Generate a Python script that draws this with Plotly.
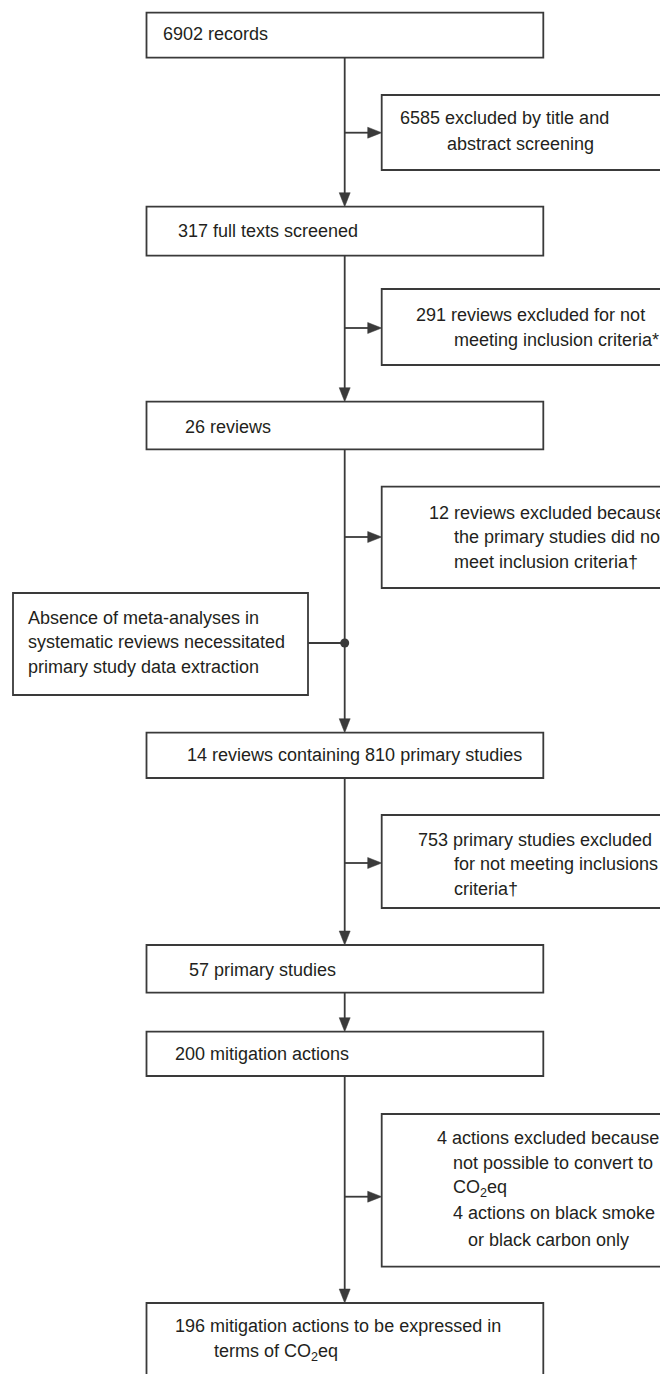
import plotly.graph_objects as go

# ---------------- data (text content of the flow chart) ----------------
main_steps = [
    ["6902 records"],
    ["317 full texts screened"],
    ["26 reviews"],
    ["14 reviews containing 810 primary studies"],
    ["57 primary studies"],
    ["200 mitigation actions"],
    ["196 mitigation actions to be expressed in", "terms of CO<sub>2</sub>eq"],
]
exclusions = [
    ["6585 excluded by title and", "abstract screening"],
    ["291 reviews excluded for not", "meeting inclusion criteria*"],
    ["12 reviews excluded because", "the primary studies did not", "meet inclusion criteria†"],
    ["753 primary studies excluded", "for not meeting inclusions", "criteria†"],
    ["4 actions excluded because", "not possible to convert to", "CO<sub>2</sub>eq",
     "4 actions on black smoke", "or black carbon only"],
]
note_lines = ["Absence of meta-analyses in", "systematic reviews necessitated",
              "primary study data extraction"]

# ---------------- layout (positions in page pixels) ----------------
W, H = 668, 1374
PAGE_OFF = 8  # default body margin of the html page
LINE_X = 344.7
MAIN_X0, MAIN_X1 = 146.5, 543.3
main_y = [(12.7, 57.7), (206.7, 255.7), (401.7, 449.3), (732.7, 778.0),
          (945.0, 992.7), (1031.7, 1076.0), (1303.0, 1395.0)]
main_text_pos = [[(161, 34)], [(176, 231)], [(183, 427)], [(185, 755)],
                 [(187, 970)], [(173, 1054)], [(173, 1326), (212, 1352)]]

SIDE_X0, SIDE_X1 = 381.7, 690
side_y = [(95.0, 170.0), (289.0, 365.0), (486.7, 588.0), (815.0, 908.0), (1114.0, 1266.7)]
side_arrow_y = [132.7, 328.0, 537.0, 863.0, 1196.7]
side_text_pos = [
    [(398, 118), (445, 144)],
    [(414, 315), (452, 340)],
    [(427, 513), (452, 537), (452, 562)],
    [(416, 840), (452, 864), (452, 889)],
    [(435, 1138), (451, 1163), (451, 1188), (451, 1213), (466, 1240)],
]

NOTE_X0, NOTE_X1, NOTE_Y0, NOTE_Y1 = 13, 308, 593, 695
NOTE_JOIN_Y = 643
note_text_pos = [(26, 618), (26, 642), (26, 667)]

LINE_COLOR = "#3a3a3a"
TEXT_COLOR = "#231f20"
LW = 1.8
FONT = "Liberation Sans, Arial, sans-serif"
FS = 18
HEAD_L, HEAD_W = 14, 11

fig = go.Figure()
shapes = []
annotations = []


def rect(x0, y0, x1, y1):
    shapes.append(dict(type="rect", xref="x", yref="y", x0=x0, x1=x1, y0=y0, y1=y1,
                       line=dict(color=LINE_COLOR, width=LW), fillcolor="white", layer="above"))


def seg(x0, y0, x1, y1):
    shapes.append(dict(type="line", xref="x", yref="y", x0=x0, x1=x1, y0=y0, y1=y1,
                       line=dict(color=LINE_COLOR, width=LW), layer="above"))


def head_down(x, y):
    p = f"M {x - HEAD_W / 2},{y - HEAD_L} L {x + HEAD_W / 2},{y - HEAD_L} L {x},{y} Z"
    shapes.append(dict(type="path", xref="x", yref="y", path=p, fillcolor=LINE_COLOR,
                       line=dict(color=LINE_COLOR, width=0.5), layer="above"))


def head_right(x, y):
    p = f"M {x - HEAD_L},{y - HEAD_W / 2} L {x - HEAD_L},{y + HEAD_W / 2} L {x},{y} Z"
    shapes.append(dict(type="path", xref="x", yref="y", path=p, fillcolor=LINE_COLOR,
                       line=dict(color=LINE_COLOR, width=0.5), layer="above"))


def text(x, y, s):
    annotations.append(dict(x=x, y=y, xref="x", yref="y", text=s, showarrow=False,
                            xanchor="left", yanchor="middle",
                            font=dict(family=FONT, size=FS, color=TEXT_COLOR)))


# main column
for i, (lines, (y0, y1)) in enumerate(zip(main_steps, main_y)):
    rect(MAIN_X0, y0, MAIN_X1, y1)
    for s, (tx, ty) in zip(lines, main_text_pos[i]):
        text(tx, ty, s)
    if i > 0:
        prev_bottom = main_y[i - 1][1]
        seg(LINE_X, prev_bottom, LINE_X, y0 - HEAD_L + 1)
        head_down(LINE_X, y0)

# exclusion boxes
for i, (lines, (y0, y1)) in enumerate(zip(exclusions, side_y)):
    rect(SIDE_X0, y0, SIDE_X1, y1)
    ay = side_arrow_y[i]
    seg(LINE_X, ay, SIDE_X0 - HEAD_L + 1, ay)
    head_right(SIDE_X0, ay)
    for s, (tx, ty) in zip(lines, side_text_pos[i]):
        text(tx, ty, s)

# note box joining the column
rect(NOTE_X0, NOTE_Y0, NOTE_X1, NOTE_Y1)
seg(NOTE_X1, NOTE_JOIN_Y, LINE_X, NOTE_JOIN_Y)
for s, (tx, ty) in zip(note_lines, note_text_pos):
    text(tx, ty, s)
fig.add_trace(go.Scatter(x=[LINE_X], y=[NOTE_JOIN_Y], mode="markers",
                         marker=dict(color=LINE_COLOR, size=9, symbol="circle"),
                         hoverinfo="skip", showlegend=False, cliponaxis=False))

fig.update_layout(
    width=W, height=H,
    margin=dict(l=0, r=0, t=0, b=0),
    paper_bgcolor="white", plot_bgcolor="white",
    shapes=shapes, annotations=annotations,
    showlegend=False,
    xaxis=dict(range=[PAGE_OFF, W + PAGE_OFF], visible=False, fixedrange=True),
    yaxis=dict(range=[H + PAGE_OFF, PAGE_OFF], visible=False, fixedrange=True),
)

fig.write_html("out.html")
